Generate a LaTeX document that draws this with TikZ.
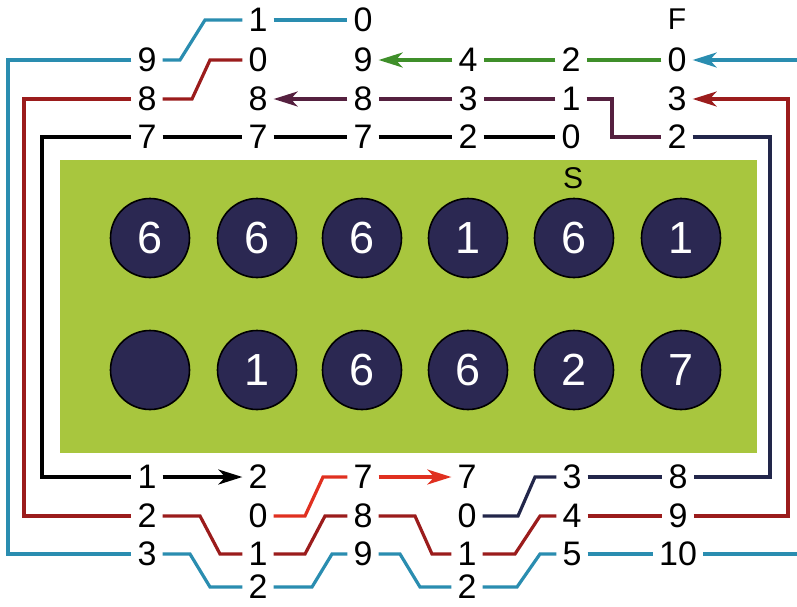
\documentclass[tikz,border=0pt]{standalone}
\usepackage{fontspec}
\setmainfont{Liberation Sans}
\usetikzlibrary{arrows.meta}
\definecolor{teal1}{HTML}{2A8DB0}
\definecolor{maroon1}{HTML}{9B1C1C}
\definecolor{red1}{HTML}{E03020}
\definecolor{navy1}{HTML}{22264A}
\definecolor{purp1}{HTML}{55203F}
\definecolor{green1}{HTML}{3F8F2A}
\definecolor{glow}{HTML}{E8E040}
\definecolor{board}{HTML}{A8C63E}
\definecolor{hole}{HTML}{2B2852}
\begin{document}
\begin{tikzpicture}[x=1pt,y=-1pt,
  lbl/.style={inner xsep=6pt,inner ysep=0pt,font=\fontsize{34}{34}\selectfont},
  hole/.style={circle,draw=black,line width=1.6pt,fill=hole,minimum size=79pt,inner sep=0pt,text=white,font=\fontsize{45}{45}\selectfont},
  wire/.style={line width=3.2pt},
  arr/.style={wire,-{Stealth[length=24pt,width=15pt,inset=7pt]}}]
\useasboundingbox (0,0) rectangle (797,606);
\fill[white] (0,0) rectangle (797,606);
% board
\fill[board] (60,160) rectangle (757,453);
\node[lbl,font=\fontsize{30}{30}\selectfont] (S) at (573,178) {S};
\foreach \x/\t [count=\i] in {150/6,257/6,362/6,468/1,574/6,681/1}
  \node[hole] (p\i) at (\x,238) {\t};
\foreach \x/\t [count=\i] in {150/{},257/1,362/6,468/6,574/2,681/7}
  \node[hole] (q\i) at (\x,370) {\t};
% labels top
\node[lbl] (a2) at (258,20) {1};
\node[lbl] (a3) at (363,20) {0};
\node[lbl,font=\fontsize{30}{30}\selectfont] (F) at (677,19) {F};
\foreach \x/\t [count=\i] in {147/9,258/0,363/9,468/4,571/2,677/0}
  \node[lbl] (b\i) at (\x,60) {\t};
\foreach \x/\t [count=\i] in {147/8,258/8,363/8,468/3,571/1,677/3}
  \node[lbl] (c\i) at (\x,99) {\t};
\foreach \x/\t [count=\i] in {147/7,258/7,363/7,468/2,571/0,677/2}
  \node[lbl] (d\i) at (\x,137) {\t};
% labels bottom
\foreach \x/\t [count=\i] in {147/1,258/2,363/7,467/7,572/3,678/8}
  \node[lbl] (e\i) at (\x,477) {\t};
\foreach \x/\t [count=\i] in {147/2,258/0,363/8,467/0,572/4,678/9}
  \node[lbl] (g\i) at (\x,516) {\t};
\foreach \x/\t [count=\i] in {147/3,258/1,363/9,467/1,572/5,678/10}
  \node[lbl] (h\i) at (\x,554) {\t};
\node[lbl] (i2) at (258,587) {2};
\node[lbl] (i4) at (467,587) {2};
% edge coordinates
\coordinate (xT) at (8,0);
\coordinate (xR) at (24,0);
\coordinate (xK) at (42,0);
\coordinate (xN) at (770,0);
\coordinate (xM) at (788,0);
\coordinate (edgeA) at (797,60);
\coordinate (edgeB) at (797,554);
% teal
\draw[wire,teal1] (b1.west) -- (b1.west -| xT) -- (h1.west -| xT) -- (h1.west);
\draw[wire,teal1] (b1.east) -- (180,60) -- (205,20) -- (a2.west);
\draw[wire,teal1] (a2) -- (a3);
\draw[arr,teal1] (edgeA) -- (b6.east);
\draw[wire,teal1] (h1.east) -- (190,554) -- (210,587) -- (i2.west);
\draw[wire,teal1] (i2.east) -- (312,587) -- (332,554) -- (h3.west);
\draw[wire,teal1] (h3.east) -- (400,554) -- (420,587) -- (i4.west);
\draw[wire,teal1] (i4.east) -- (517,587) -- (540,554) -- (h5.west);
\draw[wire,teal1] (h5) -- (h6);
\draw[wire,teal1] (h6.east) -- (edgeB);
% maroon
\draw[wire,maroon1] (c1.west) -- (c1.west -| xR) -- (g1.west -| xR) -- (g1.west);
\draw[wire,maroon1] (c1.east) -- (192,99) -- (210,60) -- (b2.west);
\draw[wire,maroon1] (g1.east) -- (200,516) -- (220,554) -- (h2.west);
\draw[wire,maroon1] (h2.east) -- (305,554) -- (325,516) -- (g3.west);
\draw[wire,maroon1] (g3.east) -- (415,516) -- (432,554) -- (h4.west);
\draw[wire,maroon1] (h4.east) -- (515,554) -- (540,516) -- (g5.west);
\draw[wire,maroon1] (g5) -- (g6);
\draw[arr,maroon1] (g6.east) -- (g6.east -| xM) -- (c6.east -| xM) -- (c6.east);
% black
\draw[wire,black] (d1.west) -- (d1.west -| xK) -- (e1.west -| xK) -- (e1.west);
\draw[wire,black] (d1) -- (d2);
\draw[wire,black] (d2) -- (d3);
\draw[wire,black] (d3) -- (d4);
\draw[wire,black] (d4) -- (d5);
\draw[arr,black] (e1) -- (e2);
% bright red
\draw[wire,red1] (g2.east) -- (305,516) -- (323,477) -- (e3.west);
\draw[arr,red1] (e3) -- (e4);
% navy
\draw[wire,navy1] (d6.east) -- (d6.east -| xN) -- (e6.east -| xN) -- (e6.east);
\draw[wire,navy1] (g4.east) -- (518,516) -- (535,477) -- (e5.west);
\draw[wire,navy1] (e5) -- (e6);
% purple
\draw[wire,purp1] (c5.east) -- (612,99) -- (612,137) -- (d6.west);
\draw[wire,purp1] (c5) -- (c4);
\draw[wire,purp1] (c4) -- (c3);
\draw[arr,purp1] (c3) -- (c2);
% green with yellow glow
\draw[wire,glow,yshift=-1.2pt] (b6) -- (b5);
\draw[wire,glow,yshift=-1.2pt] (b5) -- (b4);
\draw[wire,green1] (b6) -- (b5);
\draw[wire,green1] (b5) -- (b4);
\draw[arr,green1] (b4) -- (b3);
\end{tikzpicture}
\end{document}
